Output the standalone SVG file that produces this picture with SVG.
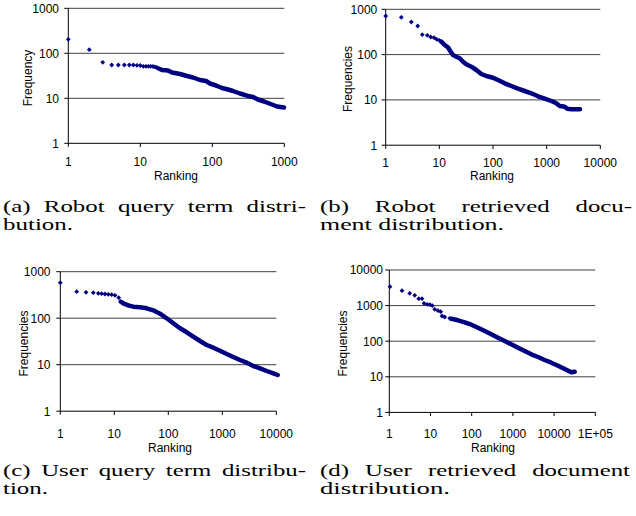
<svg xmlns="http://www.w3.org/2000/svg" width="636" height="516" viewBox="0 0 636 516">
<style>
.grid{stroke:#404040;stroke-width:1;fill:none}
.axis{stroke:#000;stroke-width:1;fill:none}
.tl{font-family:"Liberation Sans",Arial,sans-serif;font-size:12px;fill:#000}
.ty{text-anchor:end}
.tx{text-anchor:middle}
.ttl{font-family:"Liberation Sans",Arial,sans-serif;font-size:12px;fill:#000;text-anchor:middle}
.pts{fill:none;stroke:none;marker-start:url(#dm);marker-mid:url(#dm);marker-end:url(#dm)}
.dense{fill:none;stroke:#000080;stroke-width:4.5;stroke-linejoin:round;stroke-linecap:round}
.cap{font-family:"Liberation Serif","DejaVu Serif",serif;font-size:16px;fill:#000}
</style>
<defs>
<marker id="dm" viewBox="0 0 6 6" refX="3" refY="3" markerWidth="6" markerHeight="6" markerUnits="userSpaceOnUse" orient="0">
<path d="M3 0.6L5.4 3L3 5.4L0.6 3Z" fill="#000080"/>
</marker>
</defs>

<g id="chart-a">
<path class="grid" d="M68.3 8.3H284.3M68.3 53.3H284.3M68.3 98.3H284.3"/>
<path class="axis" d="M68.3 8.3V146.8M64.3 8.3H68.3M64.3 53.3H68.3M64.3 98.3H68.3M64.3 143.3H284.3M140.3 143.3V147M212.3 143.3V147M284.3 143.3V147"/>
<text class="tl ty" x="59" y="12.6">1000</text>
<text class="tl ty" x="59" y="57.6">100</text>
<text class="tl ty" x="59" y="102.6">10</text>
<text class="tl ty" x="59" y="147.6">1</text>
<text class="tl tx" x="68.3" y="166">1</text>
<text class="tl tx" x="140.3" y="166">10</text>
<text class="tl tx" x="212.3" y="166">100</text>
<text class="tl tx" x="284.3" y="166">1000</text>
<text class="ttl" x="176" y="180">Ranking</text>
<text class="ttl" transform="translate(32.3 78) rotate(-90)">Frequency</text>
<path class="pts" d="M68.3 39.3L89.3 49.7L102.7 62.3L111.7 65L118.3 65L124.3 65L129.3 65L133.3 65L137 65.3L140.3 65.5L143.3 66.3L146 66.3L148.5 66.3L150.8 66.3L153 66.5L155 67L156.9 67.5"/>
<polyline class="dense" points="158.7,68.5 162,70 168,70.5 172,72.5 180,74 187,76 193,77.5 200,80 206,81 210,83.5 216,85.5 222,88 228,89.5 233,91 240,93.5 247,95.7 253,97 258,99.5 264,101.5 268,103 272,104.5 277,106.5 284,107.5"/>
</g>

<g id="chart-b">
<path class="grid" d="M385.7 9.3H600.3M385.7 54.6H600.3M385.7 99.9H600.3"/>
<path class="axis" d="M385.7 9.3V148.7M381.7 9.3H385.7M381.7 54.6H385.7M381.7 99.9H385.7M381.7 145.2H600.3M439.3 145.2V149M493 145.2V149M546.7 145.2V149M600.3 145.2V149"/>
<text class="tl ty" x="377.3" y="13.6">1000</text>
<text class="tl ty" x="377.3" y="58.9">100</text>
<text class="tl ty" x="377.3" y="104.2">10</text>
<text class="tl ty" x="377.3" y="149.5">1</text>
<text class="tl tx" x="385.7" y="167">1</text>
<text class="tl tx" x="439.3" y="167">10</text>
<text class="tl tx" x="493" y="167">100</text>
<text class="tl tx" x="546.7" y="167">1000</text>
<text class="tl tx" x="600.3" y="167">10000</text>
<text class="ttl" x="492" y="180">Ranking</text>
<text class="ttl" transform="translate(351.6 79) rotate(-90)">Frequencies</text>
<path class="pts" d="M385.7 16L401.3 17.3L411.3 22L417.7 26L422.3 34.7L427.3 35.3L430.7 37L434 37.7L436.7 39.3L439.3 40.3"/>
<polyline class="dense" points="441.3,41.7 444.7,45 448,47.3 450.7,51.7 453,55 456.3,56.7 459.7,58.3 463,61.7 466.3,64.3 471.3,66.7 476.3,70 481.3,74 486.3,76 493,77.7 498,80 504.7,83.3 511.3,86 518,88.7 524.7,91 531.3,93.3 538,96.3 544.7,98.7 551.3,101 556.3,103.3 559.7,106 564.7,106.7 567.3,108.7 571.3,109.3 580,109.3"/>
</g>

<g id="chart-c">
<path class="grid" d="M60.3 271.7H276.3M60.3 318.2H276.3M60.3 364.7H276.3"/>
<path class="axis" d="M60.3 271.7V414.7M56.3 271.7H60.3M56.3 318.2H60.3M56.3 364.7H60.3M56.3 411.2H276.3M114.3 411.2V415M168.3 411.2V415M222.3 411.2V415M276.3 411.2V415"/>
<text class="tl ty" x="50.5" y="276">1000</text>
<text class="tl ty" x="50.5" y="322.5">100</text>
<text class="tl ty" x="50.5" y="369">10</text>
<text class="tl ty" x="50.5" y="415.5">1</text>
<text class="tl tx" x="60.3" y="437.5">1</text>
<text class="tl tx" x="114.3" y="437.5">10</text>
<text class="tl tx" x="168.3" y="437.5">100</text>
<text class="tl tx" x="222.3" y="437.5">1000</text>
<text class="tl tx" x="276.3" y="437.5">10000</text>
<text class="ttl" x="170" y="452">Ranking</text>
<text class="ttl" transform="translate(27.6 343.5) rotate(-90)">Frequencies</text>
<path class="pts" d="M60.3 282.7L76.7 291.7L86 292.3L93.3 292.7L98.3 293.3L101.7 293.7L105 294L108.3 294.3L111.7 294.7L115 295.3L118.7 297.7"/>
<polyline class="dense" points="120.7,301.7 123.3,303.3 128.3,305.3 133.3,306.7 140,307.3 146.7,308.3 153.3,310.3 160,313.7 166.7,318.3 173.3,323.3 180,328.3 186.7,332.3 193.3,336.7 200,341 206.7,345 213.3,347.7 220,350.7 226.7,354 233.3,357 240,360 246.7,362.7 253.3,366 260,368.3 266.7,371 273.3,373.3 277.7,375"/>
</g>

<g id="chart-d">
<path class="grid" d="M389.3 270H595.3M389.3 305.6H595.3M389.3 341.2H595.3M389.3 376.8H595.3"/>
<path class="axis" d="M389.3 270V415.9M385.3 270H389.3M385.3 305.6H389.3M385.3 341.2H389.3M385.3 376.8H389.3M385.3 412.4H595.3M430.5 412.4V416M471.7 412.4V416M512.9 412.4V416M554.1 412.4V416M595.3 412.4V416"/>
<text class="tl ty" x="383" y="274.3">10000</text>
<text class="tl ty" x="383" y="309.9">1000</text>
<text class="tl ty" x="383" y="345.5">100</text>
<text class="tl ty" x="383" y="381.1">10</text>
<text class="tl ty" x="383" y="416.7">1</text>
<text class="tl tx" x="389.3" y="437.5">1</text>
<text class="tl tx" x="430.5" y="437.5">10</text>
<text class="tl tx" x="471.7" y="437.5">100</text>
<text class="tl tx" x="512.9" y="437.5">1000</text>
<text class="tl tx" x="554.1" y="437.5">10000</text>
<text class="tl tx" x="595.3" y="437.5">1E+05</text>
<text class="ttl" x="493" y="452">Ranking</text>
<text class="ttl" transform="translate(346.6 343.5) rotate(-90)">Frequencies</text>
<path class="pts" d="M390 286.7L402 290.7L409.7 293.3L414.7 295.3L418.7 298.7L422 298.7L424 303.3L427.3 304.3L430 304.7L432.3 305.7L434.7 309.3L438 310.7L440.7 311.7L442 316L444.7 317L449.7 318.3"/>
<polyline class="dense" points="451.3,318.7 458,320.3 464.7,322.3 471.3,324.7 478,327.7 484.7,331 491.3,334.3 498,337.7 504.7,341 511.3,344.3 518,347.7 524.7,351 531.3,354.3 538,357 544.7,360 551.3,362.7 558,365.7 564.7,369 571.3,372.3 574.7,371.7"/>
</g>

<g id="captions">
<text class="cap" x="3" y="212" word-spacing="4.5" textLength="303" lengthAdjust="spacingAndGlyphs">(a) Robot query term distri-</text>
<text class="cap" x="3" y="230" textLength="70" lengthAdjust="spacingAndGlyphs">bution.</text>
<text class="cap" x="320" y="212" word-spacing="12.7" textLength="312" lengthAdjust="spacingAndGlyphs">(b) Robot retrieved docu-</text>
<text class="cap" x="320" y="230" textLength="184" lengthAdjust="spacingAndGlyphs">ment distribution.</text>
<text class="cap" x="3" y="476" word-spacing="2.9" textLength="303" lengthAdjust="spacingAndGlyphs">(c) User query term distribu-</text>
<text class="cap" x="3" y="494" textLength="45" lengthAdjust="spacingAndGlyphs">tion.</text>
<text class="cap" x="320" y="476" word-spacing="6.4" textLength="310" lengthAdjust="spacingAndGlyphs">(d) User retrieved document</text>
<text class="cap" x="320" y="494" textLength="130" lengthAdjust="spacingAndGlyphs">distribution.</text>
</g>
</svg>
